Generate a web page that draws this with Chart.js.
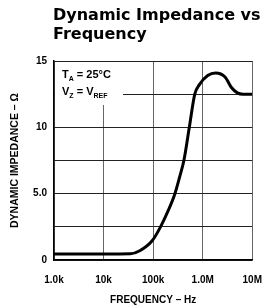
<!DOCTYPE html>
<html>
<head>
<meta charset="utf-8">
<script src="https://cdn.jsdelivr.net/npm/chart.js@4"></script>
<style>
  html, body { margin: 0; padding: 0; background: #fff; }
  #wrap { width: 276px; height: 306px; position: relative; }
</style>
</head>
<body>
<div id="wrap"><canvas id="grafica"></canvas></div>
<script>
// Dynamic impedance vs frequency

// frequency points (Hz) and impedance (ohm)
const freqs = [1000, 10000, 34700, 53700, 95500, 141000, 200000, 275000, 339000, 417000,
               537000, 692000, 851000, 1260000, 1820000, 2820000, 3800000, 5010000, 6460000, 10000000];
const impedance = [0.45, 0.45, 0.47, 0.7, 1.45, 2.5, 3.7, 5.0, 6.2, 7.5,
                   10.0, 12.5, 13.2, 13.9, 14.1, 13.8, 13.0, 12.6, 12.5, 12.5];

const xTicks = [1000, 10000, 100000, 1000000, 10000000];
const xTickLabels = ["1.0k", "10k", "100k", "1.0M", "10M"];
const yLabels = { 0: "0", 5: "5.0", 10: "10", 15: "15" };

const titleLines = ["Dynamic Impedance vs", "Frequency"];

// title + conditions note
const notes = {
    id: "notes",
    afterDatasetsDraw(chart) {
        let ctx = chart.ctx;
        let a = chart.chartArea;
        ctx.save();
        ctx.fillStyle = "#fff";
        ctx.fillRect(a.left + 1, a.top + 1, 68, 43);
        ctx.fillStyle = "#000";
        ctx.textBaseline = "alphabetic";

        // T_A = 25°C
        let x = a.left + 8, y = a.top + 17;
        ctx.font = "bold 11px 'Liberation Sans'";
        ctx.fillText("T", x, y);
        x += ctx.measureText("T").width;
        ctx.font = "bold 7px 'Liberation Sans'";
        ctx.fillText("A", x, y + 3);
        x += ctx.measureText("A").width;
        ctx.font = "bold 11px 'Liberation Sans'";
        ctx.fillText(" = 25\u00B0C", x, y);

        // V_Z = V_REF
        x = a.left + 8; y = a.top + 34;
        ctx.fillText("V", x, y);
        x += ctx.measureText("V").width;
        ctx.font = "bold 7px 'Liberation Sans'";
        ctx.fillText("Z", x, y + 3);
        x += ctx.measureText("Z").width;
        ctx.font = "bold 11px 'Liberation Sans'";
        ctx.fillText(" = V", x, y);
        x += ctx.measureText(" = V").width;
        ctx.font = "bold 7px 'Liberation Sans'";
        ctx.fillText("REF", x, y + 3);

        // title
        ctx.font = "bold 16px 'DejaVu Sans'";
        ctx.fillText(titleLines[0], 53, 20);
        ctx.fillText(titleLines[1], 53, 39);
        ctx.restore();
    }
};

let ctx = document.getElementById("grafica");
let myChart = new Chart(ctx, {
    type: "line",
    data: {
        labels: freqs,
        datasets: [{
            label: "Impedance",
            data: freqs.map((f, i) => ({ x: f, y: impedance[i] })),
            borderColor: "#000",
            borderWidth: 3,
            pointRadius: 0,
            cubicInterpolationMode: "monotone",
            fill: false
        }]
    },
    options: {
        responsive: true,
        maintainAspectRatio: false,
        animation: false,
        layout: { padding: { left: 0, top: 61, right: 12, bottom: 0 } },
        plugins: { legend: { display: false }, tooltip: { enabled: false }, title: { display: false } },
        scales: {
            x: {
                type: "logarithmic",
                min: 1000,
                max: 10000000,
                afterBuildTicks: (scale) => { scale.ticks = xTicks.map(v => ({ value: v })); },
                afterFit: (scale) => { scale.height = 46; },
                ticks: {
                    color: "#000",
                    font: { family: "'Liberation Sans'", size: 10, weight: "bold" },
                    padding: 14,
                    maxRotation: 0,
                    autoSkip: false,
                    callback: (v) => xTickLabels[xTicks.indexOf(v)]
                },
                grid: { color: "#666", lineWidth: 1, drawTicks: false },
                border: { color: "#000", width: 1.5 },
                title: {
                    display: true,
                    text: "FREQUENCY \u2013 Hz",
                    color: "#000",
                    font: { family: "'Liberation Sans'", size: 10, weight: "bold" },
                    padding: { top: 2, bottom: 0 }
                }
            },
            y: {
                min: 0,
                max: 15,
                afterFit: (scale) => { scale.width = 54; },
                ticks: {
                    stepSize: 2.5,
                    color: "#000",
                    font: { family: "'Liberation Sans'", size: 10, weight: "bold" },
                    padding: 7,
                    callback: (v) => (v in yLabels ? yLabels[v] : "")
                },
                grid: { color: "#222", lineWidth: 1, drawTicks: false },
                border: { color: "#000", width: 1.5 },
                title: {
                    display: true,
                    text: "DYNAMIC IMPEDANCE \u2013 \u03A9",
                    color: "#000",
                    font: { family: "'Liberation Sans'", size: 10.5, weight: "bold" },
                    padding: { top: 9, bottom: 0 }
                }
            }
        }
    },
    plugins: [notes]
});
</script>
</body>
</html>
